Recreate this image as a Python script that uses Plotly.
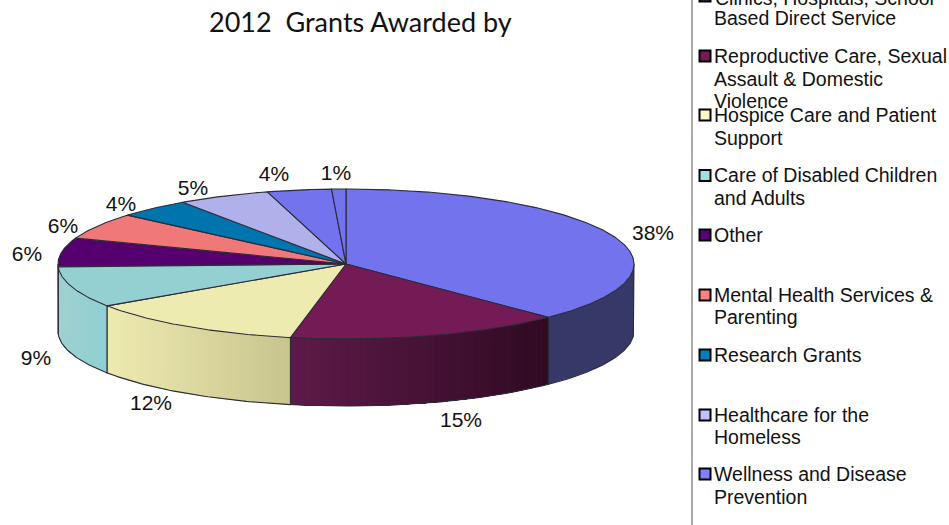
import numpy as np
import plotly.graph_objects as go

# ---- data ----
categories = ["Clinics, Hospitals, School Based Direct Service",
              "Reproductive Care, Sexual Assault & Domestic Violence",
              "Hospice Care and Patient Support",
              "Care of Disabled Children and Adults",
              "Other",
              "Mental Health Services & Parenting",
              "Research Grants",
              "Healthcare for the Homeless",
              "Wellness and Disease Prevention",
              "Unlabelled"]
values = [37.6, 15.49, 12.49, 8.82, 6.2, 5.7, 4.1, 5.2, 3.6, 0.8]
pct_labels = ["38%", "15%", "12%", "9%", "6%", "6%", "4%", "5%", "4%", "1%"]

# ---- styles ----
top_colors = ["#7373ee", "#741b56", "#eeebb0", "#94d0d2", "#55006e",
              "#f07878", "#0075ad", "#b0b0ea", "#7373ee", "#7373ee"]
side_left = ["#363868", "#5e1a49", "#eeebb0", "#a0d0d0", "#55006e",
             "#f07878", "#0075ad", "#b0b0ea", "#7373ee", "#7373ee"]
side_right = ["#363868", "#300a22", "#c8c48e", "#90d0d2", "#55006e",
              "#f07878", "#0075ad", "#b0b0ea", "#7373ee", "#7373ee"]
legend_colors = ["#363868", "#741b56", "#fbf8c0", "#a0e0e2", "#5a0078",
                 "#ff8080", "#0080c0", "#c0c0ff", "#8080ff"]
EDGE = "#2b2b3a"

# ---- layout constants (pixels) ----
W, H = 949, 525
CX, CY, RX, RY, DEPTH = 346, 264, 288, 75, 67
TEXT_NUDGE = 2
label_xy = [(653, 233), (461, 420), (151, 403), (36, 358), (27, 254),
            (63, 226), (121, 204), (193, 188), (274, 174), (336, 173)]
legend_cut_line = ("Clinics, Hospitals, School", -4)
legend_lines = [("Based Direct Service", 18.5),
                ("Reproductive Care, Sexual", 56), ("Assault & Domestic", 79), ("Violence", 101.5),
                ("Hospice Care and Patient", 115), ("Support", 138),
                ("Care of Disabled Children", 175.5), ("and Adults", 198),
                ("Other", 235),
                ("Mental Health Services &", 295), ("Parenting", 317),
                ("Research Grants", 355),
                ("Healthcare for the", 415), ("Homeless", 437),
                ("Wellness and Disease", 474), ("Prevention", 497)]
legend_marker_y = [56, 115, 175.5, 235, 295, 355, 415, 474]


def ex(t):
    return CX + RX * np.sin(np.radians(t))


def ey(t, d=0):
    return CY - RY * np.cos(np.radians(t)) + d


def hex_mix(a, b, f):
    ca = [int(a[i:i + 2], 16) for i in (1, 3, 5)]
    cb = [int(b[i:i + 2], 16) for i in (1, 3, 5)]
    return "#%02x%02x%02x" % tuple(round(p + (q - p) * f) for p, q in zip(ca, cb))


fig = go.Figure()
edges = np.concatenate([[0], np.cumsum(values)]) / np.sum(values) * 360

# front wall: each band runs to the slice end and the next one paints over it (no seams)
for i in range(len(values)):
    a0, a1 = max(edges[i], 90), min(edges[i + 1], 270)
    if a1 <= a0:
        continue
    bands = 40 if side_left[i] != side_right[i] else 1
    steps = np.linspace(a0, a1, bands + 1)
    x_lo, x_hi = min(ex(a0), ex(a1)), max(ex(a0), ex(a1))
    for b in range(bands):
        ts = np.linspace(steps[b], a1, 40)
        xm = ex((steps[b] + steps[b + 1]) / 2)
        f = (xm - x_lo) / max(x_hi - x_lo, 1)
        col = hex_mix(side_left[i], side_right[i], f)
        xs = np.r_[ex(ts), ex(ts[::-1])]
        ys = np.r_[ey(ts), ey(ts[::-1], DEPTH)]
        fig.add_trace(go.Scatter(x=np.r_[xs, xs[0]], y=np.r_[ys, ys[0]], mode="lines",
                                 fill="toself", fillcolor=col,
                                 line=dict(width=0), hoverinfo="skip"))
    # wall outline
    ts = np.linspace(a0, a1, 60)
    xs = np.r_[ex(a0), ex(ts), ex(a1)]
    ys = np.r_[ey(a0), ey(ts, DEPTH), ey(a1)]
    fig.add_trace(go.Scatter(x=xs, y=ys, mode="lines",
                             line=dict(color=EDGE, width=1.1), hoverinfo="skip"))

# top face
for i, cat in enumerate(categories):
    ts = np.linspace(edges[i], edges[i + 1], max(int(edges[i + 1] - edges[i]) * 2, 8))
    fig.add_trace(go.Scatter(x=np.r_[CX, ex(ts), CX], y=np.r_[CY, ey(ts), CY], mode="lines",
                             fill="toself", fillcolor=top_colors[i],
                             line=dict(color=EDGE, width=1.1), name=cat,
                             hovertemplate="%{fullData.name}<extra></extra>"))

# percentage labels
fig.add_trace(go.Scatter(x=[p[0] for p in label_xy], y=[p[1] + TEXT_NUDGE for p in label_xy],
                         text=pct_labels, mode="text", textposition="middle center",
                         textfont=dict(family="Liberation Sans", size=21, color="#111111"),
                         hoverinfo="skip", cliponaxis=False))

# legend column
fig.add_trace(go.Scatter(x=[705] * len(legend_marker_y), y=legend_marker_y, mode="markers",
                         marker=dict(symbol="square", size=11, color=legend_colors[1:],
                                     line=dict(color="#000000", width=2)),
                         hoverinfo="skip", cliponaxis=False))
fig.add_trace(go.Scatter(x=[714] * len(legend_lines), y=[v[1] + TEXT_NUDGE for v in legend_lines],
                         text=[v[0] for v in legend_lines], mode="text",
                         textposition="middle right",
                         textfont=dict(family="Liberation Sans", size=19.5, color="#111111"),
                         hoverinfo="skip", cliponaxis=False))

# first legend entry runs off the top of the page, as in the reference
fig.add_annotation(x=714, y=1 - (legend_cut_line[1] + TEXT_NUDGE) / H, text=legend_cut_line[0],
                   xref="x", yref="paper", xanchor="left", yanchor="middle", showarrow=False,
                   borderpad=0, font=dict(family="Liberation Sans", size=19.5, color="#111111"))
fig.add_shape(type="rect", x0=699.5, x1=710.5, y0=-9.5, y1=1.5, xref="x", yref="y",
              fillcolor=legend_colors[0], line=dict(color="#000000", width=2))

fig.add_annotation(x=360, y=21, text="2012\u00a0\u00a0Grants Awarded by", xref="x", yref="y",
                   xanchor="center", yanchor="middle", showarrow=False,
                   font=dict(family="Lato", size=27, color="#111111"))

fig.add_shape(type="line", x0=692, x1=692, y0=0, y1=H, xref="x", yref="y",
              line=dict(color="#555555", width=1))

fig.update_layout(width=W, height=H, margin=dict(l=0, r=0, t=0, b=0), showlegend=False,
                  paper_bgcolor="white", plot_bgcolor="white",
                  xaxis=dict(range=[0, W], visible=False, fixedrange=True),
                  yaxis=dict(range=[H, 0], visible=False, fixedrange=True))
fig.write_html("out.html", config={"displayModeBar": False},
               post_script="document.body.style.margin='0';document.body.style.overflow='hidden';")
